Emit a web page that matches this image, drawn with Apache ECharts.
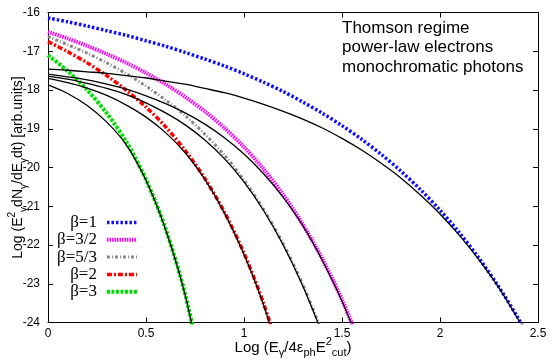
<!DOCTYPE html>
<html>
<head>
<meta charset="utf-8">
<script src="https://cdn.jsdelivr.net/npm/echarts@6/dist/echarts.min.js"></script>
<style>
html, body { margin: 0; padding: 0; background: #fff; }
#chart { width: 555px; height: 364px; }
</style>
</head>
<body>
<div id="chart"></div>
<script>
// x = Log(E/4 eps E_cut^2), shared sample points
const xs = [0, 0.1, 0.2, 0.3, 0.4, 0.5, 0.6, 0.7, 0.8, 0.9, 1.0, 1.1, 1.2,
  1.3, 1.4, 1.5, 1.6, 1.7, 1.8, 1.9, 2.0, 2.1, 2.2, 2.3, 2.4, 2.5]

const betaLabels = ["β=1", "β=3/2", "β=5/3", "β=2", "β=3"]

// exact spectra (coloured)
const beta1 = [-16.14, -16.24, -16.35, -16.47, -16.59, -16.73, -16.87, -17.03, -17.20,
  -17.38, -17.58, -17.80, -18.04, -18.31, -18.60, -18.92, -19.27, -19.66, -20.09,
  -20.57, -21.10, -21.69, -22.35, -23.08, -23.90, -24.81]
const beta32 = [-16.50, -16.67, -16.86, -17.07, -17.30, -17.56, -17.85, -18.18, -18.55,
  -18.98, -19.47, -20.04, -20.70, -21.47, -22.36, -23.41, -24.64]
const beta53 = [-16.62, -16.83, -17.05, -17.30, -17.58, -17.90, -18.26, -18.66, -19.14,
  -19.68, -20.33, -21.08, -21.97, -23.02, -24.27]
const beta2 = [-16.75, -17.01, -17.30, -17.63, -18.01, -18.44, -18.95, -19.56, -20.28,
  -21.15, -22.21, -23.51, -25.11]
const beta3 = [-17.10, -17.51, -18.00, -18.60, -19.34, -20.31, -21.58, -23.27, -25.58]

// approximations (black)
const approx1 = [-17.46, -17.49, -17.53, -17.57, -17.63, -17.69, -17.77, -17.85, -17.96,
  -18.07, -18.21, -18.37, -18.55, -18.75, -18.98, -19.25, -19.55, -19.89, -20.27,
  -20.71, -21.20, -21.76, -22.39, -23.10, -23.93, -24.85]
const approx32 = [-17.59, -17.66, -17.74, -17.85, -17.98, -18.15, -18.35, -18.59, -18.88,
  -19.23, -19.65, -20.16, -20.77, -21.50, -22.40, -23.45, -24.70]
const approx53 = [-17.64, -17.72, -17.83, -17.96, -18.12, -18.33, -18.59, -18.90, -19.29,
  -19.77, -20.37, -21.11, -22.00, -23.06, -24.30]
const approx2 = [-17.70, -17.81, -17.95, -18.14, -18.39, -18.70, -19.10, -19.62, -20.30,
  -21.17, -22.24, -23.55, -25.20]
const approx3 = [-17.87, -18.09, -18.40, -18.83, -19.42, -20.33, -21.60, -23.30, -25.70]

const xTicks = ["0", "0.5", "1", "1.5", "2", "2.5"]

const sans = "Liberation Sans"
const serif = "Liberation Serif"

function pairs(ys) {
  return ys.map((y, i) => [xs[i], y])
}

const coloured = [
  { name: betaLabels[0], ys: beta1, color: "rgb(16,16,255)", width: 3.5, dash: [2.5, 2] },
  { name: betaLabels[1], ys: beta32, color: "rgb(255,0,255)", width: 4, dash: [1.5, 1] },
  { name: betaLabels[2], ys: beta53, color: "rgb(136,136,136)", width: 3, dash: [3, 2, 1, 2] },
  { name: betaLabels[3], ys: beta2, color: "rgb(255,0,0)", width: 3.5, dash: [5, 2, 2, 2] },
  { name: betaLabels[4], ys: beta3, color: "rgb(0,224,0)", width: 4, dash: [3, 1.5] },
]

const blacks = [approx1, approx32, approx53, approx2, approx3]

const series = [
  ...coloured.map(c => ({
    type: "line",
    name: c.name,
    data: pairs(c.ys),
    symbol: "none",
    smooth: 0.3,
    clip: true,
    z: 2,
    color: c.color,
    lineStyle: { color: c.color, width: c.width, type: c.dash, cap: "butt" },
    itemStyle: { color: c.color },
  })),
  ...blacks.map(ys => ({
    type: "line",
    data: pairs(ys),
    symbol: "none",
    smooth: 0.3,
    clip: true,
    silent: true,
    z: 3,
    lineStyle: { color: "#000", width: 1.3 },
  })),
]

const xAxisBase = {
  type: "value",
  min: 0,
  max: 2.5,
  interval: 0.5,
  splitLine: { show: false },
  axisLine: { show: true, onZero: false, lineStyle: { color: "#000", width: 1 } },
  axisTick: { show: true, inside: true, length: 5, lineStyle: { color: "#000" } },
}

const yAxisBase = {
  type: "value",
  min: -24,
  max: -16,
  interval: 1,
  splitLine: { show: false },
  axisLine: { show: true, onZero: false, lineStyle: { color: "#000", width: 1 } },
  axisTick: { show: true, inside: true, length: 5, lineStyle: { color: "#000" } },
}

const chart = echarts.init(document.getElementById("chart"))

chart.setOption({
  animation: false,
  backgroundColor: "#fff",
  grid: {
    left: 48, right: 17, top: 12.5, bottom: 41.5,
    show: false, containLabel: false, outerBoundsMode: "none",
  },
  legend: {
    data: coloured.map(c => ({
      name: c.name,
      lineStyle: { color: c.color, width: c.width, type: c.dash, cap: "butt", opacity: 1 },
    })),
    orient: "vertical",
    align: "right",
    left: 57,
    top: 214,
    padding: 0,
    itemWidth: 30,
    itemHeight: 12,
    itemGap: 0.3,
    selectedMode: false,
    itemStyle: { opacity: 0 },
    textStyle: {
      fontFamily: serif,
      fontSize: 17,
      lineHeight: 17,
      color: "#000",
      padding: [0, 5, 0, 0],
    },
  },
  graphic: [
    {
      type: "text",
      left: 342,
      top: 19,
      style: {
        text: "Thomson regime\npower-law electrons\nmonochromatic photons",
        font: '17px "Liberation Sans"',
        lineHeight: 19.2,
        fill: "#000",
      },
    },
  ],
  xAxis: [
    {
      ...xAxisBase,
      position: "bottom",
      axisLabel: {
        margin: 5,
        fontFamily: sans,
        fontSize: 12,
        color: "#000",
        formatter: v => xTicks[Math.round(v / 0.5)],
      },
      name: "Log (E{sub|γ}/4ε{sub|ph}E{sup|2}{sub|cut})",
      nameLocation: "middle",
      nameGap: 14,
      nameMoveOverlap: false,
      nameTextStyle: {
        fontFamily: sans,
        fontSize: 15,
        color: "#000",
        lineHeight: 22,
        rich: {
          sub: { fontFamily: sans, fontSize: 11, verticalAlign: "bottom", lineHeight: 22 },
          sup: { fontFamily: sans, fontSize: 11, verticalAlign: "top", lineHeight: 22 },
        },
      },
    },
    { ...xAxisBase, position: "top", axisLabel: { show: false } },
  ],
  yAxis: [
    {
      ...yAxisBase,
      position: "left",
      axisLabel: { margin: 8, fontFamily: sans, fontSize: 12, color: "#000" },
      name: "Log (E{sup|2}{sub|γ}dN{sub|γ}/dE{sub|γ}dt) [arb.units]",
      nameLocation: "middle",
      nameGap: 19,
      nameMoveOverlap: false,
      nameTextStyle: {
        fontFamily: sans,
        fontSize: 14,
        color: "#000",
        lineHeight: 22,
        rich: {
          sub: { fontFamily: sans, fontSize: 10, verticalAlign: "bottom", lineHeight: 22 },
          sup: { fontFamily: sans, fontSize: 10, verticalAlign: "top", lineHeight: 22 },
        },
      },
    },
    { ...yAxisBase, position: "right", axisLabel: { show: false } },
  ],
  series,
})
</script>
</body>
</html>
